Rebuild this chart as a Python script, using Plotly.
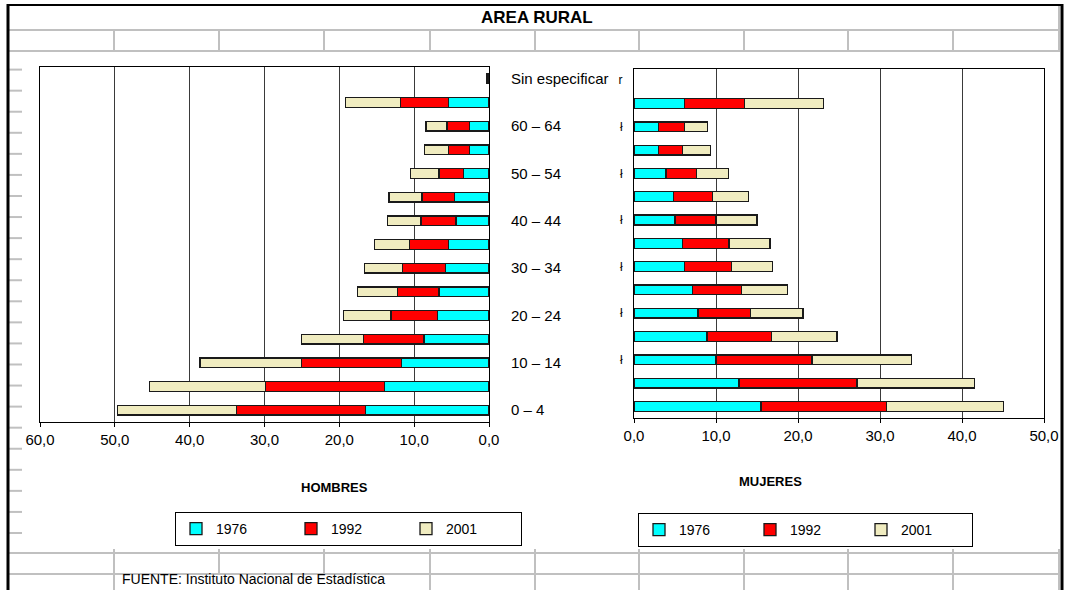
import plotly.graph_objects as go

W, H = 1073, 590

categories = ["0 – 4", "5 – 9", "10 – 14", "15 – 19", "20 – 24", "25 – 29", "30 – 34",
              "35 – 39", "40 – 44", "45 – 49", "50 – 54", "55 – 59", "60 – 64", "65 y más",
              "Sin especificar"]
years = ["1976", "1992", "2001"]

hombres_1976 = [16.5, 14.0, 11.7, 8.7, 6.9, 6.7, 5.8, 5.4, 4.4, 4.6, 3.4, 2.6, 2.6, 5.4, 0.1]
hombres_1992 = [17.2, 15.9, 13.4, 8.1, 6.2, 5.55, 5.8, 5.2, 4.7, 4.35, 3.3, 2.8, 3.0, 6.4, 0.1]
hombres_2001 = [15.9, 15.5, 13.5, 8.25, 6.3, 5.3, 5.0, 4.7, 4.5, 4.4, 3.8, 3.2, 2.8, 7.4, 0.1]

mujeres_1976 = [15.5, 12.8, 10.0, 8.9, 7.8, 7.1, 6.2, 5.9, 5.0, 4.8, 3.9, 3.0, 3.0, 6.2, None]
mujeres_1992 = [15.3, 14.4, 11.7, 7.85, 6.4, 6.0, 5.7, 5.7, 5.0, 4.8, 3.75, 2.9, 3.2, 7.3, None]
mujeres_2001 = [14.3, 14.3, 12.1, 8.0, 6.4, 5.6, 5.0, 5.0, 5.0, 4.4, 3.9, 3.4, 2.8, 9.6, None]

label_cats = ["0 – 4", "10 – 14", "20 – 24", "30 – 34", "40 – 44", "50 – 54", "60 – 64",
              "Sin especificar"]
right_marks = ["", "ł", "ł", "ł", "ł", "ł", "ł", "r"]
x_ticks_h = [0, 10, 20, 30, 40, 50, 60]
x_ticks_m = [0, 10, 20, 30, 40, 50]

title_text = "AREA RURAL"
left_title = "HOMBRES"
right_title = "MUJERES"
source_text = "FUENTE: Instituto Nacional de Estadística"

FONT = "Liberation Sans, Arial, sans-serif"
colors = ["#00FFFF", "#FF0000", "#F0ECC0"]
edge = "#1a1a1a"


def X(px):
    return px / W


def Y(py):
    return 1 - py / H


fig = go.Figure()

for yr, vals, col in zip(years, [hombres_1976, hombres_1992, hombres_2001], colors):
    fig.add_trace(go.Bar(y=categories, x=vals, name=yr, orientation="h",
                         marker=dict(color=col, line=dict(color=edge, width=1.3)),
                         xaxis="x", yaxis="y", legend="legend"))

for yr, vals, col in zip(years, [mujeres_1976, mujeres_1992, mujeres_2001], colors):
    fig.add_trace(go.Bar(y=categories, x=vals, name=yr, orientation="h",
                         marker=dict(color=col, line=dict(color=edge, width=1.3)),
                         xaxis="x2", yaxis="y2", legend="legend2"))

axis_common = dict(showline=True, mirror=True, linecolor="black", linewidth=1,
                   showgrid=True, gridcolor="#3a3a3a", gridwidth=1, zeroline=False,
                   tickformat=".1f", ticks="outside", ticklen=4, tickcolor="black",
                   automargin=False,
                   tickfont=dict(size=15, color="black", family=FONT))

shapes = []
gray = "#C0C0C0"


def line(x0, y0, x1, y1, color=gray, width=2):
    shapes.append(dict(type="line", xref="paper", yref="paper",
                       x0=X(x0), y0=Y(y0), x1=X(x1), y1=Y(y1),
                       line=dict(color=color, width=width), layer="above"))


col_x = [114, 219, 324, 430, 535, 639, 744, 848, 953, 1059]
line(8, 30, 1060, 30)
line(8, 51, 1060, 51)
for cx in col_x:
    line(cx, 30, cx, 51)
line(1059, 5, 1059, 30)
# row stubs on the left
y0 = 69.6
step = (533 - 69.6) / 22
for k in range(23):
    yy = y0 + step * k
    line(8, yy, 22, yy)
line(8, 553, 1060, 553)
line(8, 574, 1060, 574)
for cx in col_x:
    line(cx, 549, cx, 574)
    if cx not in (219, 324):
        line(cx, 574, cx, 590)
# black outer border
line(7, 5, 1063, 5, "black", 2)
line(8, 4, 8, 590, "black", 3)
line(1062, 4, 1062, 590, "black", 3)

fig.update_layout(
    template="none",
    width=W, height=H, autosize=False,
    margin=dict(l=0, r=0, t=0, b=0, autoexpand=False),
    paper_bgcolor="white", plot_bgcolor="white",
    separators=", ",
    barmode="stack", bargap=0.58,
    font=dict(family=FONT, color="black", size=15),
    xaxis=dict(domain=[X(40), X(489)], range=[60, 0], tickvals=x_ticks_h,
               anchor="y", **axis_common),
    yaxis=dict(domain=[Y(422), Y(67)], anchor="x", side="right", type="category",
               categoryorder="array", categoryarray=categories, automargin=False,
               showline=True, mirror=True, linecolor="black", linewidth=1,
               showgrid=False, zeroline=False, ticks="", tickvals=label_cats,
               ticktext=label_cats, ticklabelstandoff=18,
               tickfont=dict(size=15, family=FONT, color="black")),
    xaxis2=dict(domain=[X(634), X(1044)], range=[0, 50], tickvals=x_ticks_m,
                anchor="y2", **axis_common),
    yaxis2=dict(domain=[Y(418), Y(68.6)], anchor="x2", side="left", type="category",
                categoryorder="array", categoryarray=categories, automargin=False,
                showline=True, mirror=True, linecolor="black", linewidth=1,
                showgrid=False, zeroline=False, ticks="", tickvals=label_cats,
                ticktext=right_marks, ticklabelstandoff=8,
                tickfont=dict(size=12, family=FONT, color="black")),
    legend=dict(orientation="h", x=X(175), y=Y(512), xanchor="left", yanchor="top",
                bordercolor="black", borderwidth=1, bgcolor="white",
                font=dict(size=14, family=FONT, color="black"), entrywidth=70,
                traceorder="normal"),
    legend2=dict(orientation="h", x=X(638), y=Y(513), xanchor="left", yanchor="top",
                 bordercolor="black", borderwidth=1, bgcolor="white",
                 font=dict(size=14, family=FONT, color="black"), entrywidth=66,
                 traceorder="normal"),
    shapes=shapes,
    annotations=[
        dict(text="<b>" + title_text + "</b>", x=X(537), y=Y(18), xref="paper", yref="paper",
             xanchor="center", yanchor="middle", showarrow=False,
             font=dict(size=17, family=FONT)),
        dict(text="<b>" + left_title + "</b>", x=X(334), y=Y(488), xref="paper", yref="paper",
             xanchor="center", yanchor="middle", showarrow=False,
             font=dict(size=13, family=FONT)),
        dict(text="<b>" + right_title + "</b>", x=X(770), y=Y(481), xref="paper", yref="paper",
             xanchor="center", yanchor="middle", showarrow=False,
             font=dict(size=13, family=FONT)),
        dict(text=source_text, x=X(120), y=Y(579), xref="paper", yref="paper",
             xanchor="left", yanchor="middle", showarrow=False,
             font=dict(size=14, family=FONT)),
    ],
    showlegend=True,
)

fig.write_html("out.html", config={"displayModeBar": False},
               post_script="document.body.style.margin='0';")
